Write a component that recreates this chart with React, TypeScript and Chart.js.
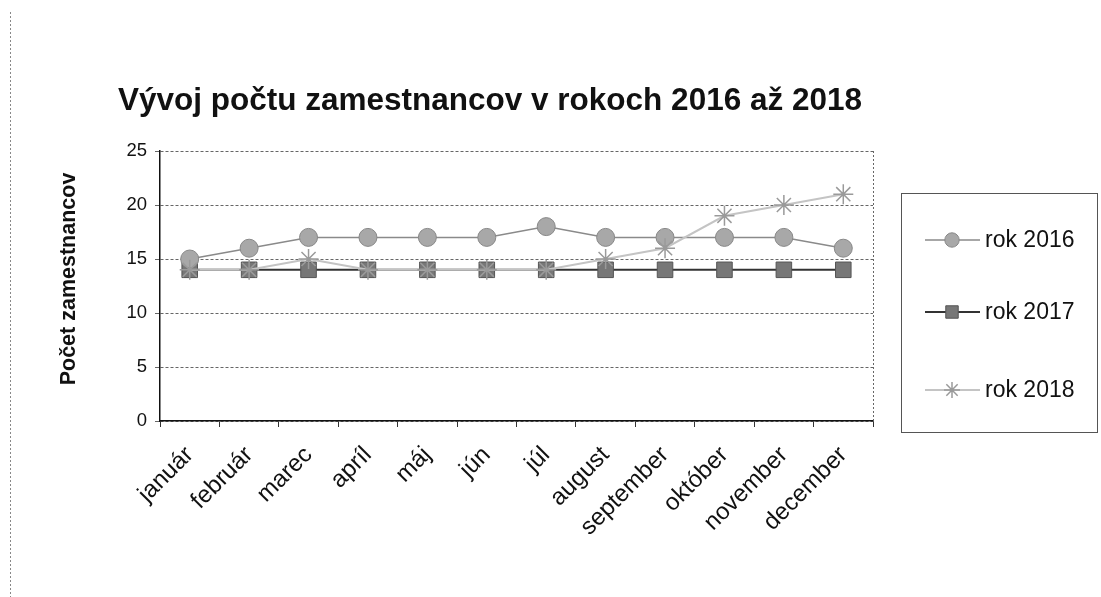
import React, { useEffect, useRef } from "react";
import { Chart, registerables } from "chart.js";
import { drawPoint } from "chart.js/helpers";

Chart.register(...registerables);

const TITLE = "Vývoj počtu zamestnancov v rokoch 2016 až 2018";
const Y_TITLE = "Počet zamestnancov";
const MONTHS = ["január", "február", "marec", "apríl", "máj", "jún", "júl", "august", "september", "október", "november", "december"];
const SERIES_LABELS = ["rok 2016", "rok 2017", "rok 2018"];
const ROK_2016 = [15, 16, 17, 17, 17, 17, 18, 17, 17, 17, 17, 16];
const ROK_2017 = [14, 14, 14, 14, 14, 14, 14, 14, 14, 14, 14, 14];
const ROK_2018 = [14, 14, 15, 14, 14, 14, 14, 15, 16, 19, 20, 21];
const Y_MIN = 0;
const Y_MAX = 25;
const Y_STEP = 5;

const FONT = "Arial, 'Liberation Sans', Helvetica, sans-serif";

const decorPlugin = {
  id: "decor",
  afterDraw(chart: any) {
    const ctx = chart.ctx;
    const a = chart.chartArea;
    ctx.save();
    // page border dotted line on left
    ctx.strokeStyle = "#888";
    ctx.lineWidth = 1;
    ctx.setLineDash([2, 2]);
    ctx.beginPath();
    ctx.moveTo(10.5, 12);
    ctx.lineTo(10.5, 597);
    ctx.stroke();
    // right border of plot area
    ctx.strokeStyle = "#666";
    ctx.beginPath();
    ctx.moveTo(a.right + 0.5, a.top);
    ctx.lineTo(a.right + 0.5, a.bottom);
    ctx.stroke();
    ctx.setLineDash([]);
    // title
    ctx.fillStyle = "#111";
    ctx.font = `bold 31.5px ${FONT}`;
    ctx.textAlign = "center";
    ctx.textBaseline = "alphabetic";
    ctx.fillText(TITLE, 490, 110);
    // y axis title
    ctx.save();
    ctx.translate(69, 279);
    ctx.rotate(-Math.PI / 2);
    ctx.font = `bold 21.5px ${FONT}`;
    ctx.textAlign = "center";
    ctx.textBaseline = "middle";
    ctx.fillText(Y_TITLE, 0, 0);
    ctx.restore();
    // legend
    const lx = 901, ly = 193, lw = 196, lh = 239;
    ctx.strokeStyle = "#555";
    ctx.lineWidth = 1;
    ctx.strokeRect(lx + 0.5, ly + 0.5, lw, lh);
    const rows = [240, 312, 390];
    chart.data.datasets.forEach((ds: any, i: number) => {
      const y = rows[i];
      ctx.strokeStyle = ds.borderColor;
      ctx.lineWidth = ds.borderWidth;
      ctx.beginPath();
      ctx.moveTo(925, y);
      ctx.lineTo(980, y);
      ctx.stroke();
      ctx.fillStyle = ds.pointBackgroundColor;
      ctx.strokeStyle = ds.pointBorderColor;
      ctx.lineWidth = ds.pointBorderWidth;
      drawPoint(ctx, { pointStyle: ds.pointStyle, radius: ds.pointRadius * 0.8, borderWidth: ds.pointBorderWidth, rotation: 0 } as any, 952, y);
      ctx.fillStyle = "#111";
      ctx.font = `23px ${FONT}`;
      ctx.textAlign = "left";
      ctx.textBaseline = "middle";
      ctx.fillText(ds.label, 985, y + 1);
    });
    ctx.restore();
  },
};

export default function App() {
  const ref = useRef<HTMLCanvasElement>(null);
  useEffect(() => {
    if (!ref.current) return;
    const chart = new Chart(ref.current, {
      type: "line",
      data: {
        labels: MONTHS,
        datasets: [
          {
            label: SERIES_LABELS[0],
            data: ROK_2016,
            order: 1,
            borderColor: "#8a8a8a",
            borderWidth: 1.5,
            pointStyle: "circle",
            pointRadius: 9,
            pointBackgroundColor: "#a8a8a8",
            pointBorderColor: "#888",
            pointBorderWidth: 1,
          },
          {
            label: SERIES_LABELS[1],
            data: ROK_2017,
            order: 2,
            borderColor: "#333",
            borderWidth: 2,
            pointStyle: "rect",
            pointRadius: 11,
            pointBackgroundColor: "#777",
            pointBorderColor: "#555",
            pointBorderWidth: 1,
          },
          {
            label: SERIES_LABELS[2],
            data: ROK_2018,
            order: 0,
            borderColor: "#c4c4c4",
            borderWidth: 2,
            pointStyle: "star",
            pointRadius: 10,
            pointBackgroundColor: "#bbb",
            pointBorderColor: "#9a9a9a",
            pointBorderWidth: 1.5,
          },
        ],
      },
      options: {
        animation: false,
        responsive: false,
        events: [],
        layout: { padding: { left: 54, top: 151, right: 228, bottom: 0 } },
        plugins: {
          legend: { display: false },
          title: { display: false },
          tooltip: { enabled: false },
        },
        scales: {
          x: {
            offset: true,
            grid: { offset: true, drawOnChartArea: false, drawTicks: true, tickLength: 6, color: "#333" },
            border: { color: "#111", width: 1.5 },
            ticks: {
              minRotation: 45,
              maxRotation: 45,
              autoSkip: false,
              color: "#111",
              font: { family: FONT, size: 24 },
              padding: 14,
            },
            afterFit: (s: any) => { s.height = 176; },
          },
          y: {
            min: Y_MIN,
            max: Y_MAX,
            ticks: { stepSize: Y_STEP, color: "#111", font: { family: FONT, size: 18.5 }, padding: 8 },
            grid: { color: "#666", tickLength: 5, tickBorderDash: [] },
            border: { color: "#111", width: 1.5, dash: [3, 2] },
            title: { display: false },
            afterFit: (s: any) => { s.width = 106; },
          },
        },
      },
      plugins: [decorPlugin],
    } as any);
    return () => chart.destroy();
  }, []);
  return (
    <div style={{ position: "fixed", left: 0, top: 0, width: 1101, height: 597, background: "#fff" }}>
      <canvas ref={ref} width={1101} height={597} style={{ width: 1101, height: 597, display: "block" }} />
    </div>
  );
}
